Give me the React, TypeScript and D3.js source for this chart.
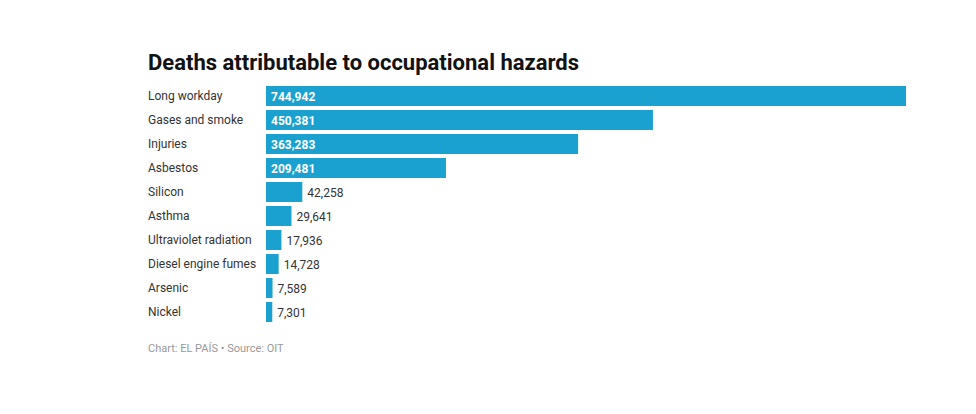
import React from "react";
import * as d3 from "d3";

const categories = [
  "Long workday",
  "Gases and smoke",
  "Injuries",
  "Asbestos",
  "Silicon",
  "Asthma",
  "Ultraviolet radiation",
  "Diesel engine fumes",
  "Arsenic",
  "Nickel",
];
const values = [744942, 450381, 363283, 209481, 42258, 29641, 17936, 14728, 7589, 7301];

const title = "Deaths attributable to occupational hazards";
const footer = "Chart: EL PAÍS • Source: OIT";

const W = 976;
const H = 414;
const font = "Roboto, 'Noto Sans', sans-serif";
const barColor = "#1ba1cf";

export default function App() {
  const x = d3.scaleLinear().domain([0, d3.max(values) as number]).range([266, 906]);
  const y = d3
    .scaleBand<string>()
    .domain(categories)
    .range([84, 324])
    .paddingInner(4 / 24)
    .paddingOuter(2 / 24);
  const fmt = d3.format(",");
  return (
    <svg
      width={W}
      height={H}
      style={{ position: "absolute", left: 0, top: 0, background: "#fff" }}
      fontFamily={font}
    >
      <rect x={0} y={0} width={W} height={H} fill="#fff" />
      <text x={148} y={70} fontSize={22} fontWeight={700} fill="#121212">
        {title}
      </text>
      {categories.map((c, i) => {
        const v = values[i];
        const y0 = y(c) as number;
        const bw = y.bandwidth();
        const w = x(v) - x(0);
        const label = fmt(v);
        const inside = w > 60;
        return (
          <g key={c}>
            <text x={148} y={y0 + bw / 2 + 4} fontSize={12} fill="#333">
              {c}
            </text>
            <rect x={x(0)} y={y0} width={w} height={bw} fill={barColor} />
            <text
              x={inside ? x(0) + 5 : x(v) + 5}
              y={y0 + bw / 2 + 4.5}
              fontSize={12}
              fontWeight={inside ? 700 : 400}
              fill={inside ? "#fff" : "#333"}
            >
              {label}
            </text>
          </g>
        );
      })}
      <text x={148} y={352} fontSize={11} fill="#999">
        {footer}
      </text>
    </svg>
  );
}
